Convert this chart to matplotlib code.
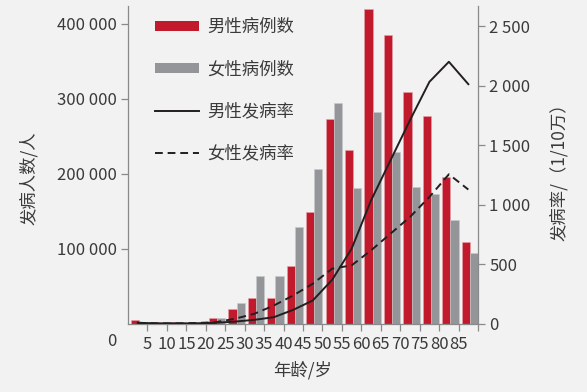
import numpy as np
import matplotlib.pyplot as plt
from matplotlib.patches import Patch
from matplotlib.lines import Line2D

plt.rcParams['font.family'] = ['Noto Sans CJK SC', 'DejaVu Sans']

# 年龄组（起始年龄）
ages = [0, 5, 10, 15, 20, 25, 30, 35, 40, 45, 50, 55, 60, 65, 70, 75, 80, 85]

# 发病人数
male_cases = [5300, 3000, 3000, 3000, 7600, 19600, 35000, 35000, 77700, 149700,
              273000, 232000, 419600, 385300, 309000, 277000, 196400, 109700]
female_cases = [2000, 2000, 2000, 3000, 8400, 27600, 63500, 63500, 129700, 206200,
                294700, 180900, 282200, 229000, 183100, 173300, 138700, 94300]

# 发病率（1/10万）
male_rate = [10, 5, 5, 5, 10, 20, 35, 57, 119, 197, 371, 632, 1038, 1374, 1710, 2032, 2200, 2012]
female_rate = [10, 5, 5, 8, 15, 44, 86, 155, 240, 338, 464, 492, 618, 758, 898, 1066, 1256, 1128]

xticks = [5, 10, 15, 20, 25, 30, 35, 40, 45, 50, 55, 60, 65, 70, 75, 80, 85, 90]
xtick_labels = ['5', '10', '15', '20', '25', '30', '35', '40', '45', '50', '55', '60',
                '65', '70', '75', '80', '85', '']

red = '#c21a2d'
gray = '#939598'
bg = '#f2f2f2'
txt = '#3a3a3a'
spine_c = '#8a8a8a'

fig = plt.figure(figsize=(5.87, 3.92), dpi=100, facecolor=bg)
ax = fig.add_axes([0.2181, 0.1735, 0.5963, 0.8112])
ax.set_facecolor(bg)

a = np.array(ages)
ax.bar(a + 0.8, male_cases, width=2.1, align='edge', color=red, edgecolor='#e6a3ab', linewidth=0.4)
ax.bar(a + 2.9, female_cases, width=2.1, align='edge', color=gray, edgecolor='#c8c9cb', linewidth=0.4)

ax.set_xlim(0, 90)
ax.set_ylim(0, 424000)
ax.set_xticks(xticks)
ax.set_xticklabels(xtick_labels)
ax.set_yticks([100000, 200000, 300000, 400000])
ax.set_yticklabels(['100 000', '200 000', '300 000', '400 000'])

ax2 = ax.twinx()
ax2.plot(a + 2.5, male_rate, color='#231f20', lw=1.4)
ax2.plot(a + 2.5, female_rate, color='#231f20', lw=1.4, ls=(0, (4, 2.5)))
ax2.set_ylim(0, 2668)
ax2.set_yticks([0, 500, 1000, 1500, 2000, 2500])
ax2.set_yticklabels(['0', '500', '1 000', '1 500', '2 000', '2 500'])

for axx in (ax, ax2):
    axx.spines['top'].set_visible(False)
    for s in axx.spines.values():
        s.set_color(spine_c)
        s.set_linewidth(0.9)
    axx.tick_params(colors=spine_c, labelcolor=txt, labelsize=12, length=5, width=0.9, pad=3)
ax.spines['right'].set_visible(False)
ax2.spines['left'].set_visible(False)
ax2.spines['bottom'].set_visible(False)
ax.tick_params(axis='x', pad=4)

ax.set_ylabel('发病人数/人', fontsize=12.5, color=txt)
ax.yaxis.set_label_coords(-0.257, 0.46)
ax2.set_ylabel('发病率/（1/10万）', fontsize=12.5, color=txt)
ax2.yaxis.set_label_coords(1.207, 0.49)
ax.set_xlabel('年龄/岁', fontsize=12.5, color=txt)
ax.xaxis.set_label_coords(0.5, -0.115)
fig.text(112 / 587, 1 - 342 / 392, '0', fontsize=12, color=txt, ha='center', va='center')

handles = [Patch(facecolor=red, edgecolor='none'),
           Patch(facecolor=gray, edgecolor='none'),
           Line2D([], [], color='#231f20', lw=1.4),
           Line2D([], [], color='#231f20', lw=1.4, ls=(0, (4, 2.5)))]
labels = ['男性病例数', '女性病例数', '男性发病率', '女性发病率']
leg = ax.legend(handles, labels, loc='upper left', bbox_to_anchor=(0.043, 1.0), frameon=False,
                fontsize=12.5, handlelength=2.5, handleheight=0.45, handletextpad=0.5,
                labelspacing=1.38, borderaxespad=0.3)
for t in leg.get_texts():
    t.set_color(txt)

fig.savefig('out.png', dpi=100, facecolor=bg)
